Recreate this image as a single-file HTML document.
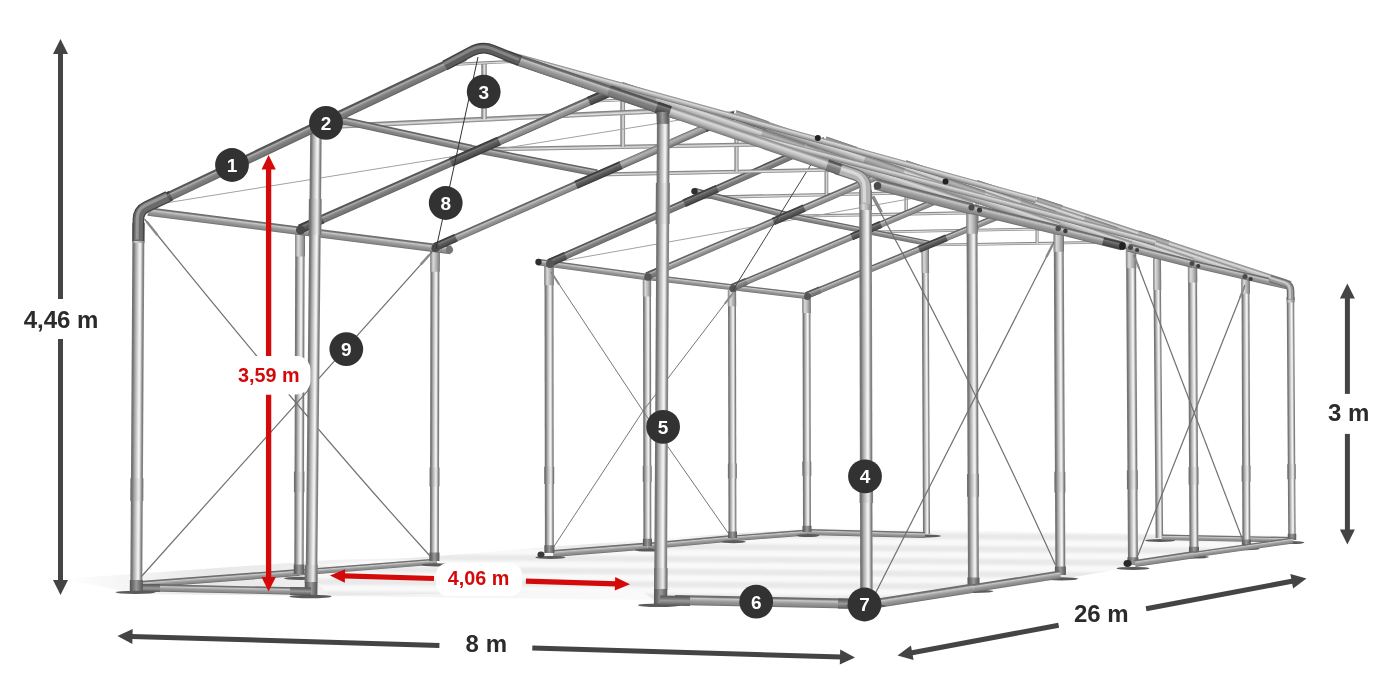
<!DOCTYPE html>
<html><head><meta charset="utf-8"><title>Tent frame</title>
<style>html,body{margin:0;padding:0;background:#fff}body{width:1400px;height:700px;overflow:hidden;font-family:"Liberation Sans",sans-serif}svg{display:block;transform:translateZ(0)}text{font-family:"Liberation Sans",sans-serif;font-weight:700}</style></head><body>
<svg width="1400" height="700" viewBox="0 0 1400 700">
<defs>
<linearGradient id="post" x1="0" y1="0" x2="0" y2="1"><stop offset="0" stop-color="#6e6e6e"/><stop offset="0.14" stop-color="#7a7a7a"/><stop offset="0.28" stop-color="#a8a8a8"/><stop offset="0.45" stop-color="#cfcfcf"/><stop offset="0.62" stop-color="#f4f4f4"/><stop offset="0.72" stop-color="#e6e6e6"/><stop offset="0.82" stop-color="#a8a8a8"/><stop offset="0.92" stop-color="#7c7c7c"/><stop offset="1" stop-color="#8a8a8a"/></linearGradient>
<linearGradient id="post2" x1="0" y1="0" x2="0" y2="1"><stop offset="0" stop-color="#6a6a6a"/><stop offset="0.14" stop-color="#767676"/><stop offset="0.28" stop-color="#a0a0a0"/><stop offset="0.45" stop-color="#c6c6c6"/><stop offset="0.62" stop-color="#e8e8e8"/><stop offset="0.72" stop-color="#dadada"/><stop offset="0.82" stop-color="#a0a0a0"/><stop offset="0.92" stop-color="#787878"/><stop offset="1" stop-color="#848484"/></linearGradient>
<linearGradient id="socket" x1="0" y1="0" x2="0" y2="1"><stop offset="0" stop-color="#555"/><stop offset="0.2" stop-color="#6a6a6a"/><stop offset="0.5" stop-color="#9a9a9a"/><stop offset="0.75" stop-color="#787878"/><stop offset="1" stop-color="#555"/></linearGradient>
<linearGradient id="lite" x1="0" y1="0" x2="0" y2="1"><stop offset="0" stop-color="#7a7a7a"/><stop offset="0.2" stop-color="#8c8c8c"/><stop offset="0.4" stop-color="#c4c4c4"/><stop offset="0.6" stop-color="#e0e0e0"/><stop offset="0.8" stop-color="#a6a6a6"/><stop offset="1" stop-color="#808080"/></linearGradient>
<linearGradient id="dark" x1="0" y1="0" x2="0" y2="1"><stop offset="0" stop-color="#4e4e4e"/><stop offset="0.18" stop-color="#5c5c5c"/><stop offset="0.3" stop-color="#b0b0b0"/><stop offset="0.4" stop-color="#989898"/><stop offset="0.55" stop-color="#808080"/><stop offset="0.85" stop-color="#747474"/><stop offset="1" stop-color="#5a5a5a"/></linearGradient>
<linearGradient id="mdark" x1="0" y1="0" x2="0" y2="1"><stop offset="0" stop-color="#5e5e5e"/><stop offset="0.18" stop-color="#6c6c6c"/><stop offset="0.3" stop-color="#c4c4c4"/><stop offset="0.42" stop-color="#adadad"/><stop offset="0.6" stop-color="#969696"/><stop offset="0.85" stop-color="#868686"/><stop offset="1" stop-color="#666"/></linearGradient>
<linearGradient id="sleeve" x1="0" y1="0" x2="0" y2="1"><stop offset="0" stop-color="#3a3a3a"/><stop offset="0.18" stop-color="#444"/><stop offset="0.3" stop-color="#7c7c7c"/><stop offset="0.45" stop-color="#626262"/><stop offset="0.7" stop-color="#525252"/><stop offset="1" stop-color="#3a3a3a"/></linearGradient>
<linearGradient id="mid" x1="0" y1="0" x2="0" y2="1"><stop offset="0" stop-color="#666"/><stop offset="0.16" stop-color="#747474"/><stop offset="0.3" stop-color="#c8c8c8"/><stop offset="0.42" stop-color="#b2b2b2"/><stop offset="0.6" stop-color="#989898"/><stop offset="0.85" stop-color="#888"/><stop offset="1" stop-color="#686868"/></linearGradient>
<linearGradient id="silver" x1="0" y1="0" x2="0" y2="1"><stop offset="0" stop-color="#8a8a8a"/><stop offset="0.12" stop-color="#9c9c9c"/><stop offset="0.3" stop-color="#dadada"/><stop offset="0.6" stop-color="#b8b8b8"/><stop offset="0.88" stop-color="#8c8c8c"/><stop offset="1" stop-color="#666"/></linearGradient>
<linearGradient id="mid2" x1="0" y1="0" x2="0" y2="1"><stop offset="0" stop-color="#5c5c5c"/><stop offset="0.16" stop-color="#686868"/><stop offset="0.3" stop-color="#b8b8b8"/><stop offset="0.42" stop-color="#a0a0a0"/><stop offset="0.6" stop-color="#888"/><stop offset="0.85" stop-color="#7a7a7a"/><stop offset="1" stop-color="#5e5e5e"/></linearGradient>
<linearGradient id="silver2" x1="0" y1="0" x2="0" y2="1"><stop offset="0" stop-color="#777"/><stop offset=".3" stop-color="#b4b4b4"/><stop offset=".6" stop-color="#9a9a9a"/><stop offset="1" stop-color="#666"/></linearGradient>
<linearGradient id="shl" x1="0" y1="0" x2="1" y2="0"><stop offset="0" stop-color="#e4e4e4" stop-opacity="0"/><stop offset=".25" stop-color="#e6e6e6" stop-opacity=".9"/><stop offset=".5" stop-color="#f1f1f1" stop-opacity=".9"/><stop offset="1" stop-color="#f9f9f9" stop-opacity=".8"/></linearGradient>
</defs>
<rect width="1400" height="700" fill="#fff"/>
<clipPath id="floor"><polygon points="300,566 437,556 549,547 807,528 1290,536 1296,542 1133,567 1062,579 880,607 660,604 640,590 330,596"/></clipPath>
<filter id="soft" x="-5%" y="-20%" width="110%" height="140%"><feGaussianBlur stdDeviation="1.6 1.1"/></filter>
<polygon points="62,579 330,560 660,552 660,600 330,596 140,594" fill="url(#shl)"/>
<g clip-path="url(#floor)"><rect x="290" y="520" width="1020" height="95" fill="#f9f9f9"/><g filter="url(#soft)">
<polygon points="300,528.0 1300,536.0 1300,542.0 300,534.0" fill="#e6e6e6" opacity=".85"/>
<polygon points="300,540.6 1300,548.6 1300,554.6 300,546.6" fill="#e6e6e6" opacity=".85"/>
<polygon points="300,553.2 1300,561.2 1300,567.2 300,559.2" fill="#e6e6e6" opacity=".85"/>
<polygon points="300,565.8 1300,573.8 1300,579.8 300,571.8" fill="#e6e6e6" opacity=".85"/>
<polygon points="300,578.4 1300,586.4 1300,592.4 300,584.4" fill="#e6e6e6" opacity=".85"/>
<polygon points="300,591.0 1300,599.0 1300,605.0 300,597.0" fill="#e6e6e6" opacity=".85"/>
<polygon points="300,603.6 1300,611.6 1300,617.6 300,609.6" fill="#e6e6e6" opacity=".85"/>
</g></g>
<rect x="926.5" y="530.50" width="287.5" height="7" fill="url(#post)" transform="rotate(-90.26 926.5 534.0)"/>
<rect x="925.4" y="269.30" width="26.5" height="7.4" fill="url(#silver)" transform="rotate(-90.43 925.4 273.0)"/>
<rect x="1159.4" y="534.25" width="280.0" height="7.5" fill="url(#post)" transform="rotate(-90.49 1159.4 538.0)"/>
<rect x="1157.3" y="286.05" width="32.0" height="7.9" fill="url(#silver)" transform="rotate(-90.54 1157.3 290.0)"/>
<ellipse cx="927.0" cy="536.0" rx="14" ry="1.4" fill="#5a5a5a"/>
<ellipse cx="1160.0" cy="540.5" rx="15" ry="1.4" fill="#5a5a5a"/>
<rect x="807.0" y="529.10" width="118.0" height="5.8" fill="url(#mid)" transform="rotate(1.46 807.0 532.0)"/>
<rect x="1162.0" y="534.50" width="129.0" height="5.6" fill="url(#mid)" transform="rotate(1.11 1162.0 537.3)"/>
<rect x="553.0" y="550.00" width="94.7" height="7" fill="url(#mid)" transform="rotate(-4.54 553.0 553.5)"/>
<rect x="647.4" y="542.80" width="85.4" height="6.4" fill="url(#mid)" transform="rotate(-5.17 647.4 546.0)"/>
<rect x="732.5" y="535.40" width="74.7" height="5.8" fill="url(#mid)" transform="rotate(-4.45 732.5 538.3)"/>
<rect x="931.6" y="243.70" width="224.1" height="2.6" fill="url(#lite)" transform="rotate(-0.90 931.6 245.0)"/>
<rect x="1037.0" y="241.84" width="35.1" height="3" fill="url(#lite)" transform="rotate(-90.00 1037.0 243.3)"/>
<rect x="1019.9" y="208.58" width="31.8" height="2" fill="url(#lite)" transform="rotate(-2.82 1019.9 209.6)"/>
<rect x="865.0" y="230.74" width="237.7" height="2.8000000000000003" fill="url(#lite)" transform="rotate(-1.05 865.0 232.1)"/>
<rect x="977.1" y="228.54" width="38.2" height="3.08" fill="url(#lite)" transform="rotate(-90.00 977.1 230.1)"/>
<rect x="958.6" y="192.24" width="34.2" height="2" fill="url(#lite)" transform="rotate(-2.82 958.6 193.2)"/>
<rect x="787.6" y="214.74" width="252.6" height="3.1" fill="url(#lite)" transform="rotate(-1.11 787.6 216.3)"/>
<rect x="906.2" y="212.28" width="40.7" height="3.41" fill="url(#lite)" transform="rotate(-90.00 906.2 214.0)"/>
<rect x="885.8" y="173.83" width="37.9" height="2" fill="url(#lite)" transform="rotate(-2.82 885.8 174.8)"/>
<rect x="699.4" y="195.81" width="269.5" height="3.4000000000000004" fill="url(#lite)" transform="rotate(-1.31 699.4 197.5)"/>
<rect x="826.4" y="192.74" width="44.1" height="3.74" fill="url(#lite)" transform="rotate(-90.00 826.4 194.6)"/>
<rect x="803.9" y="151.20" width="41.5" height="2.04" fill="url(#lite)" transform="rotate(-2.82 803.9 152.2)"/>
<line x1="551.0" y1="263.0" x2="976.0" y2="187.0" stroke="#a2a2a2" stroke-width="1"/>
<rect x="807.0" y="527.00" width="232.5" height="8" fill="url(#post)" transform="rotate(-90.12 807.0 531.0)"/>
<rect x="806.5" y="308.77" width="14.5" height="8.4" fill="url(#silver)" transform="rotate(-90.13 806.5 313.0)"/>
<rect x="806.9" y="471.16" width="14.1" height="9" fill="url(#post2)" transform="rotate(-90.12 806.9 475.7)"/>
<rect x="807.0" y="527.50" width="6.2" height="9" fill="url(#socket)" transform="rotate(-90.10 807.0 532.0)"/>
<ellipse cx="808.0" cy="535.6" rx="11.440000000000001" ry="1.5" fill="#5a5a5a"/>
<rect x="732.5" y="533.00" width="246.4" height="8" fill="url(#post)" transform="rotate(-90.12 732.5 537.0)"/>
<rect x="732.0" y="302.07" width="15.7" height="8.4" fill="url(#silver)" transform="rotate(-90.12 732.0 306.3)"/>
<rect x="732.4" y="473.89" width="15.0" height="9" fill="url(#post2)" transform="rotate(-90.11 732.4 478.4)"/>
<rect x="732.5" y="533.50" width="6.6" height="9" fill="url(#socket)" transform="rotate(-90.10 732.5 538.0)"/>
<ellipse cx="733.5" cy="541.8" rx="12.32" ry="1.5" fill="#5a5a5a"/>
<rect x="647.4" y="541.00" width="266.0" height="8" fill="url(#post)" transform="rotate(-90.09 647.4 545.0)"/>
<rect x="647.0" y="292.26" width="17.5" height="8.4" fill="url(#silver)" transform="rotate(-90.09 647.0 296.5)"/>
<rect x="647.3" y="477.28" width="16.1" height="9" fill="url(#post2)" transform="rotate(-90.09 647.3 481.8)"/>
<rect x="647.4" y="541.50" width="7.2" height="9" fill="url(#socket)" transform="rotate(-90.07 647.4 546.0)"/>
<ellipse cx="648.4" cy="550.1" rx="13.64" ry="1.5" fill="#5a5a5a"/>
<rect x="549.4" y="547.50" width="286.0" height="9" fill="url(#post)" transform="rotate(-90.08 549.4 552.0)"/>
<rect x="549.0" y="280.56" width="19.3" height="9.4" fill="url(#silver)" transform="rotate(-90.08 549.0 285.3)"/>
<rect x="549.3" y="479.09" width="17.3" height="10" fill="url(#post2)" transform="rotate(-90.08 549.3 484.1)"/>
<rect x="549.4" y="548.00" width="7.8" height="10" fill="url(#socket)" transform="rotate(-90.07 549.4 553.0)"/>
<ellipse cx="550.4" cy="557.4" rx="14.96" ry="1.5" fill="#5a5a5a"/>
<ellipse cx="541" cy="554.5" rx="3.5" ry="3" fill="#3a3a3a"/>
<rect x="537.5" y="258.60" width="110.5" height="6.8" fill="url(#mid)" transform="rotate(7.80 537.5 262.0)"/>
<rect x="647.0" y="274.00" width="160.6" height="6" fill="url(#mid)" transform="rotate(6.79 647.0 277.0)"/>
<circle cx="538.5" cy="262.0" r="3.2" fill="#2e2e2e"/>
<rect x="694.0" y="187.70" width="96.7" height="6.6" fill="url(#mid2)" transform="rotate(14.54 694.0 191.0)"/>
<rect x="787.6" y="212.39" width="146.8" height="5.8" fill="url(#mid2)" transform="rotate(11.28 787.6 215.3)"/>
<circle cx="694.5" cy="191.3" r="3.2" fill="#2e2e2e"/>
<rect x="806.5" y="292.30" width="248.2" height="6.4" fill="url(#mdark)" transform="rotate(-22.38 806.5 295.5)"/>
<rect x="806.5" y="292.00" width="14.9" height="7.0" fill="url(#dark)" transform="rotate(-22.38 806.5 295.5)"/>
<rect x="1013.0" y="206.95" width="24.8" height="7.0" fill="url(#dark)" transform="rotate(-22.38 1013.0 210.4)"/>
<rect x="919.0" y="245.69" width="29.8" height="7.0" fill="url(#sleeve)" transform="rotate(-22.38 919.0 249.2)"/>
<circle cx="807.5" cy="296.5" r="3.5200000000000005" fill="#555"/>
<rect x="732.0" y="284.30" width="265.1" height="6.6" fill="url(#mdark)" transform="rotate(-23.01 732.0 287.6)"/>
<rect x="732.0" y="284.00" width="15.9" height="7.199999999999999" fill="url(#dark)" transform="rotate(-23.01 732.0 287.6)"/>
<rect x="951.6" y="190.76" width="26.5" height="7.199999999999999" fill="url(#dark)" transform="rotate(-23.01 951.6 194.4)"/>
<rect x="851.6" y="233.24" width="31.8" height="7.199999999999999" fill="url(#sleeve)" transform="rotate(-23.01 851.6 236.8)"/>
<circle cx="733.0" cy="288.6" r="3.63" fill="#555"/>
<rect x="647.0" y="272.50" width="281.0" height="7.0" fill="url(#mdark)" transform="rotate(-23.35 647.0 276.0)"/>
<rect x="647.0" y="272.20" width="16.9" height="7.6" fill="url(#dark)" transform="rotate(-23.35 647.0 276.0)"/>
<rect x="879.2" y="171.94" width="28.1" height="7.6" fill="url(#dark)" transform="rotate(-23.35 879.2 175.7)"/>
<rect x="773.4" y="217.61" width="33.7" height="7.6" fill="url(#sleeve)" transform="rotate(-23.35 773.4 221.4)"/>
<circle cx="648.0" cy="277.0" r="3.8500000000000005" fill="#555"/>
<rect x="549.0" y="259.30" width="301.8" height="7.4" fill="url(#dark)" transform="rotate(-23.85 549.0 263.0)"/>
<rect x="549.0" y="259.00" width="18.1" height="8.0" fill="url(#sleeve)" transform="rotate(-23.85 549.0 263.0)"/>
<rect x="797.4" y="149.20" width="30.2" height="8.0" fill="url(#sleeve)" transform="rotate(-23.85 797.4 153.2)"/>
<rect x="684.2" y="199.22" width="36.2" height="8.0" fill="url(#sleeve)" transform="rotate(-23.85 684.2 203.2)"/>
<circle cx="550.0" cy="264.0" r="4.07" fill="#555"/>
<line x1="820.0" y1="150.0" x2="733.0" y2="290.0" stroke="#444" stroke-width="1"/>
<polyline points="551,272 643,411 733,540" fill="none" stroke="#777" stroke-width="1"/>
<polyline points="733,293 643,411 553,548" fill="none" stroke="#777" stroke-width="1"/>
<rect x="1292.0" y="535.25" width="242.0" height="7.5" fill="url(#post)" transform="rotate(-90.36 1292.0 539.0)"/>
<rect x="1290.6" y="298.53" width="5.5" height="7.9" fill="url(#silver)" transform="rotate(-90.96 1290.6 302.5)"/>
<rect x="1291.6" y="475.06" width="15.2" height="8.5" fill="url(#post2)" transform="rotate(-90.34 1291.6 479.3)"/>
<rect x="1292.0" y="535.75" width="6.2" height="8.5" fill="url(#socket)" transform="rotate(-90.28 1292.0 540.0)"/>
<ellipse cx="1292.0" cy="542.6" rx="12.48" ry="1.5" fill="#5a5a5a"/>
<rect x="1246.4" y="541.00" width="268.0" height="8" fill="url(#post)" transform="rotate(-90.19 1246.4 545.0)"/>
<rect x="1245.6" y="289.48" width="16.7" height="8.4" fill="url(#silver)" transform="rotate(-90.19 1245.6 293.7)"/>
<rect x="1246.2" y="477.05" width="16.2" height="9" fill="url(#post2)" transform="rotate(-90.19 1246.2 481.6)"/>
<rect x="1246.4" y="541.50" width="6.6" height="9" fill="url(#socket)" transform="rotate(-90.16 1246.4 546.0)"/>
<ellipse cx="1246.4" cy="548.8" rx="13.440000000000001" ry="1.5" fill="#5a5a5a"/>
<rect x="1194.0" y="548.50" width="289.0" height="9" fill="url(#post)" transform="rotate(-90.30 1194.0 553.0)"/>
<rect x="1192.6" y="277.77" width="18.5" height="9.4" fill="url(#silver)" transform="rotate(-90.30 1192.6 282.5)"/>
<rect x="1193.6" y="479.62" width="17.5" height="10" fill="url(#post2)" transform="rotate(-90.30 1193.6 484.6)"/>
<rect x="1194.0" y="549.00" width="7.2" height="10" fill="url(#socket)" transform="rotate(-90.25 1194.0 554.0)"/>
<ellipse cx="1194.0" cy="557.1" rx="14.879999999999999" ry="1.5" fill="#5a5a5a"/>
<rect x="1133.0" y="559.00" width="316.0" height="10" fill="url(#post)" transform="rotate(-90.36 1133.0 564.0)"/>
<rect x="1131.1" y="263.07" width="20.3" height="10.4" fill="url(#silver)" transform="rotate(-90.36 1131.1 268.3)"/>
<rect x="1132.5" y="483.77" width="19.1" height="11" fill="url(#post2)" transform="rotate(-90.36 1132.5 489.3)"/>
<rect x="1133.0" y="559.50" width="7.8" height="11" fill="url(#socket)" transform="rotate(-90.31 1133.0 565.0)"/>
<ellipse cx="1133.0" cy="568.4" rx="16.32" ry="1.5" fill="#5a5a5a"/>
<rect x="1135.0" y="559.90" width="59.7" height="7.2" fill="url(#mid)" transform="rotate(-8.58 1135.0 563.5)"/>
<rect x="1194.0" y="551.60" width="100.0" height="6" fill="url(#mid)" transform="rotate(-8.11 1194.0 554.6)"/>
<ellipse cx="1127.5" cy="563.5" rx="4" ry="3.4" fill="#2a2a2a"/>
<line x1="1134.0" y1="255.0" x2="1245.0" y2="546.0" stroke="#707070" stroke-width="1.2"/>
<line x1="1245.0" y1="285.0" x2="1136.0" y2="560.0" stroke="#707070" stroke-width="1.2"/>
<rect x="597.0" y="172.60" width="290.2" height="3.8" fill="url(#lite)" transform="rotate(-1.16 597.0 174.5)"/>
<rect x="736.5" y="169.59" width="46.0" height="4.18" fill="url(#lite)" transform="rotate(-90.00 736.5 171.7)"/>
<rect x="711.4" y="126.40" width="46.4" height="2.2800000000000002" fill="url(#lite)" transform="rotate(-2.82 711.4 127.5)"/>
<rect x="471.0" y="147.35" width="315.0" height="4.3" fill="url(#lite)" transform="rotate(-1.01 471.0 149.5)"/>
<rect x="622.7" y="144.45" width="47.8" height="4.7299999999999995" fill="url(#lite)" transform="rotate(-90.00 622.7 146.8)"/>
<rect x="594.3" y="99.90" width="52.5" height="2.58" fill="url(#lite)" transform="rotate(-2.82 594.3 101.2)"/>
<rect x="325.0" y="124.20" width="338.7" height="5" fill="url(#lite)" transform="rotate(-2.69 325.0 126.7)"/>
<rect x="484.0" y="116.48" width="57.2" height="5.5" fill="url(#lite)" transform="rotate(-90.00 484.0 119.2)"/>
<rect x="451.0" y="63.00" width="61.1" height="3" fill="url(#lite)" transform="rotate(-2.82 451.0 64.5)"/>
<line x1="150.0" y1="205.5" x2="735.0" y2="111.0" stroke="#a2a2a2" stroke-width="1"/>
<rect x="140.0" y="581.10" width="159.5" height="6.8" fill="url(#mid)" transform="rotate(-4.32 140.0 584.5)"/>
<rect x="299.0" y="569.50" width="138.4" height="6" fill="url(#mid)" transform="rotate(-4.56 299.0 572.5)"/>
<rect x="434.4" y="555.50" width="310.0" height="9" fill="url(#post)" transform="rotate(-89.89 434.4 560.0)"/>
<rect x="435.0" y="266.95" width="21.7" height="9.4" fill="url(#silver)" transform="rotate(-89.88 435.0 271.7)"/>
<rect x="434.5" y="481.44" width="18.8" height="10" fill="url(#post2)" transform="rotate(-89.89 434.5 486.4)"/>
<rect x="434.4" y="556.00" width="8.6" height="10" fill="url(#socket)" transform="rotate(-89.90 434.4 561.0)"/>
<ellipse cx="436.4" cy="564.8" rx="15.2" ry="1.6" fill="#5a5a5a"/>
<rect x="299.0" y="568.25" width="341.0" height="9.5" fill="url(#post)" transform="rotate(-89.83 299.0 573.0)"/>
<rect x="299.9" y="251.70" width="24.7" height="9.9" fill="url(#silver)" transform="rotate(-89.83 299.9 256.6)"/>
<rect x="299.2" y="486.91" width="20.6" height="10.5" fill="url(#post2)" transform="rotate(-89.83 299.2 492.2)"/>
<rect x="299.0" y="568.75" width="9.6" height="10.5" fill="url(#socket)" transform="rotate(-89.85 299.0 574.0)"/>
<ellipse cx="301.0" cy="578.3" rx="17.2" ry="1.6" fill="#5a5a5a"/>
<rect x="148.0" y="207.20" width="305.4" height="8.6" fill="url(#mid)" transform="rotate(7.24 148.0 211.5)"/>
<circle cx="449.5" cy="249.8" r="3.6" fill="#777"/>
<rect x="325.0" y="112.70" width="149.5" height="7.6" fill="url(#mid2)" transform="rotate(12.36 325.0 116.5)"/>
<rect x="470.0" y="144.60" width="129.4" height="7.4" fill="url(#mid2)" transform="rotate(11.01 470.0 148.3)"/>
<rect x="435.0" y="243.10" width="327.8" height="7.8" fill="url(#mdark)" transform="rotate(-23.75 435.0 247.0)"/>
<rect x="615.0" y="163.90" width="131.1" height="7.8" fill="url(#silver2)" transform="rotate(-23.75 615.0 167.8)"/>
<rect x="435.0" y="242.80" width="22.9" height="8.4" fill="url(#sleeve)" transform="rotate(-23.75 435.0 247.0)"/>
<rect x="576.0" y="180.76" width="49.2" height="8.4" fill="url(#sleeve)" transform="rotate(-23.75 576.0 185.0)"/>
<rect x="705.0" y="124.00" width="32.8" height="8.4" fill="url(#sleeve)" transform="rotate(-23.75 705.0 128.2)"/>
<circle cx="435.5" cy="248.0" r="4.056" fill="#484848"/>
<rect x="300.0" y="224.70" width="351.0" height="8.6" fill="url(#dark)" transform="rotate(-23.86 300.0 229.0)"/>
<rect x="492.6" y="139.50" width="140.4" height="8.6" fill="url(#mdark)" transform="rotate(-23.86 492.6 143.8)"/>
<rect x="300.0" y="224.40" width="24.6" height="9.2" fill="url(#sleeve)" transform="rotate(-23.86 300.0 229.0)"/>
<rect x="450.9" y="157.66" width="52.7" height="9.2" fill="url(#sleeve)" transform="rotate(-23.86 450.9 162.3)"/>
<rect x="588.9" y="96.60" width="35.1" height="9.2" fill="url(#sleeve)" transform="rotate(-23.86 588.9 101.2)"/>
<circle cx="300.5" cy="230.0" r="4.4719999999999995" fill="#484848"/>
<line x1="478.0" y1="57.0" x2="436.0" y2="249.0" stroke="#333" stroke-width="1"/>
<path d="M144.5,219 Q308.5,422.4 430,556" fill="none" stroke="#707070" stroke-width="1.2"/>
<line x1="432.0" y1="252.0" x2="141.0" y2="577.0" stroke="#707070" stroke-width="1.2"/>
<rect x="1036.0" y="197.05" width="268.0" height="7.9" fill="url(#silver)" transform="rotate(18.27 1036.0 201.0)"/>
<rect x="1137.8" y="230.35" width="32.2" height="8.5" fill="url(#silver2)" transform="rotate(18.27 1137.8 234.6)"/>
<rect x="1036.0" y="196.75" width="26.8" height="8.5" fill="url(#silver2)" transform="rotate(18.27 1036.0 201.0)"/>
<rect x="976.0" y="179.95" width="284.4" height="8.1" fill="url(#silver)" transform="rotate(18.66 976.0 184.0)"/>
<rect x="1083.8" y="216.05" width="34.1" height="8.7" fill="url(#silver2)" transform="rotate(18.66 1083.8 220.4)"/>
<rect x="976.0" y="179.65" width="28.4" height="8.7" fill="url(#silver2)" transform="rotate(18.66 976.0 184.0)"/>
<rect x="905.0" y="160.35" width="303.6" height="8.5" fill="url(#silver)" transform="rotate(18.72 905.0 164.6)"/>
<rect x="1020.0" y="199.01" width="36.4" height="9.1" fill="url(#silver2)" transform="rotate(18.72 1020.0 203.6)"/>
<rect x="905.0" y="160.05" width="30.4" height="9.1" fill="url(#silver2)" transform="rotate(18.72 905.0 164.6)"/>
<rect x="825.0" y="136.55" width="323.5" height="8.9" fill="url(#silver)" transform="rotate(18.94 825.0 141.0)"/>
<rect x="947.4" y="178.25" width="38.8" height="9.5" fill="url(#silver2)" transform="rotate(18.94 947.4 183.0)"/>
<rect x="825.0" y="136.25" width="32.4" height="9.5" fill="url(#silver2)" transform="rotate(18.94 825.0 141.0)"/>
<rect x="735.0" y="110.35" width="342.5" height="9.3" fill="url(#silver)" transform="rotate(19.09 735.0 115.0)"/>
<rect x="864.5" y="154.85" width="41.1" height="9.9" fill="url(#silver2)" transform="rotate(19.09 864.5 159.8)"/>
<rect x="735.0" y="110.05" width="34.3" height="9.9" fill="url(#silver2)" transform="rotate(19.09 735.0 115.0)"/>
<rect x="621.0" y="81.95" width="370.6" height="10.1" fill="url(#silver)" transform="rotate(18.73 621.0 87.0)"/>
<rect x="761.4" y="129.25" width="44.5" height="10.7" fill="url(#silver2)" transform="rotate(18.73 761.4 134.6)"/>
<rect x="621.0" y="81.65" width="37.1" height="10.7" fill="url(#silver2)" transform="rotate(18.73 621.0 87.0)"/>
<rect x="482.0" y="44.00" width="574.7" height="6" fill="url(#silver)" transform="rotate(15.44 482.0 47.0)"/>
<rect x="663.3" y="109.80" width="509.1" height="6" fill="url(#silver)" transform="rotate(14.76 663.3 112.8)"/>
<circle cx="945.5" cy="181.6" r="3" fill="#222"/><circle cx="817.8" cy="138" r="3" fill="#222"/>
<rect x="1060.4" y="569.00" width="345.0" height="10" fill="url(#post)" transform="rotate(-90.28 1060.4 574.0)"/>
<rect x="1058.8" y="246.47" width="22.7" height="10.4" fill="url(#silver)" transform="rotate(-90.28 1058.8 251.7)"/>
<rect x="1060.0" y="486.95" width="20.8" height="11" fill="url(#post2)" transform="rotate(-90.28 1060.0 492.5)"/>
<rect x="1060.4" y="569.50" width="8.6" height="11" fill="url(#socket)" transform="rotate(-90.25 1060.4 575.0)"/>
<ellipse cx="1061.4" cy="578.8" rx="16.72" ry="1.6" fill="#5a5a5a"/>
<rect x="973.5" y="580.50" width="378.0" height="11" fill="url(#post)" transform="rotate(-90.23 973.5 586.0)"/>
<rect x="972.1" y="227.96" width="25.7" height="11.4" fill="url(#silver)" transform="rotate(-90.23 972.1 233.7)"/>
<rect x="973.1" y="490.70" width="22.8" height="12" fill="url(#post2)" transform="rotate(-90.23 973.1 496.7)"/>
<rect x="973.5" y="581.00" width="9.6" height="12" fill="url(#socket)" transform="rotate(-90.20 973.5 587.0)"/>
<ellipse cx="974.5" cy="591.3" rx="18.919999999999998" ry="1.6" fill="#5a5a5a"/>
<rect x="875.5" y="178.30" width="99.7" height="11.4" fill="url(#mid)" transform="rotate(14.52 875.5 184.0)"/>
<rect x="972.0" y="203.90" width="90.6" height="10.2" fill="url(#mid)" transform="rotate(13.67 972.0 209.0)"/>
<rect x="1060.0" y="225.90" width="63.9" height="9" fill="url(#mid)" transform="rotate(13.95 1060.0 230.4)"/>
<circle cx="877.5" cy="185.8" r="3.8" fill="#4a4a4a"/>
<rect x="1103.0" y="237.30" width="19.6" height="7.8" fill="url(#sleeve)" transform="rotate(14.18 1103.0 241.2)"/>
<ellipse cx="1122.5" cy="246" rx="3.4" ry="3.9" fill="#222"/>
<rect x="1128.0" y="243.50" width="67.1" height="8" fill="url(#mid)" transform="rotate(14.24 1128.0 247.5)"/>
<rect x="1193.0" y="260.40" width="97.0" height="7.2" fill="url(#mid)" transform="rotate(12.99 1193.0 264.0)"/>
<circle cx="971.5" cy="207.5" r="3.096" fill="#4a4a4a"/>
<circle cx="979.5" cy="210.0" r="2.58" fill="#3a3a3a"/>
<circle cx="1058.2" cy="228.5" r="2.736" fill="#4a4a4a"/>
<circle cx="1065.4" cy="231.0" r="2.2800000000000002" fill="#3a3a3a"/>
<circle cx="1130.5" cy="247.5" r="2.52" fill="#4a4a4a"/>
<circle cx="1137.1" cy="250.0" r="2.0999999999999996" fill="#3a3a3a"/>
<circle cx="1192.0" cy="263.5" r="2.52" fill="#4a4a4a"/>
<circle cx="1198.2" cy="266.0" r="2.0999999999999996" fill="#3a3a3a"/>
<circle cx="1245.0" cy="276.5" r="2.52" fill="#4a4a4a"/>
<circle cx="1250.7" cy="279.0" r="2.0999999999999996" fill="#3a3a3a"/>
<circle cx="1290.0" cy="286.5" r="2.52" fill="#4a4a4a"/>
<path d="M1270.0,278.5 L1284.8,283.2 Q1290.5,285.0 1290.6,291.0 L1290.7,300.0" fill="none" stroke="#6a6a6a" stroke-width="7.6"/>
<path d="M1270.0,278.5 L1284.8,283.2 Q1290.5,285.0 1290.6,291.0 L1290.7,300.0" fill="none" stroke="#9a9a9a" stroke-width="5.2"/>
<path d="M1270.0,278.5 L1284.8,283.2 Q1290.5,285.0 1290.6,291.0 L1290.7,300.0" fill="none" stroke="#cfcfcf" stroke-width="2.1" transform="translate(-0.76 -0.99)" opacity=".9"/>
<rect x="880.0" y="598.10" width="94.4" height="9.4" fill="url(#mid)" transform="rotate(-8.89 880.0 602.8)"/>
<rect x="973.3" y="584.20" width="88.2" height="8" fill="url(#mid)" transform="rotate(-8.94 973.3 588.2)"/>
<path d="M870,190 L872,197 Q961.2,357.6 1055.5,565" fill="none" stroke="#707070" stroke-width="1.2"/>
<line x1="1054.0" y1="242.0" x2="873.0" y2="598.0" stroke="#707070" stroke-width="1.2"/>
<line x1="147.0" y1="222.1" x2="157.0" y2="234.6" stroke="#8a8a8a" stroke-width="2.4" stroke-linecap="round"/>
<line x1="429.3" y1="255.0" x2="421.3" y2="263.9" stroke="#8a8a8a" stroke-width="2.4" stroke-linecap="round"/>
<line x1="552.7" y1="274.5" x2="558.7" y2="283.7" stroke="#8a8a8a" stroke-width="2" stroke-linecap="round"/>
<line x1="731.2" y1="295.4" x2="725.1" y2="303.3" stroke="#8a8a8a" stroke-width="2" stroke-linecap="round"/>
<line x1="873.8" y1="197.1" x2="881.3" y2="211.2" stroke="#8a8a8a" stroke-width="2.4" stroke-linecap="round"/>
<line x1="1052.6" y1="244.7" x2="1046.7" y2="256.3" stroke="#8a8a8a" stroke-width="2.4" stroke-linecap="round"/>
<line x1="1135.1" y1="257.8" x2="1139.0" y2="268.1" stroke="#8a8a8a" stroke-width="2" stroke-linecap="round"/>
<line x1="1243.9" y1="287.8" x2="1240.2" y2="297.1" stroke="#8a8a8a" stroke-width="2" stroke-linecap="round"/>
<rect x="150.0" y="584.10" width="156.0" height="7.4" fill="url(#mid)" transform="rotate(1.25 150.0 587.8)"/>
<rect x="675.0" y="595.00" width="185.0" height="10" fill="url(#mid)" transform="rotate(1.18 675.0 600.0)"/>
<rect x="311.3" y="589.20" width="462.0" height="11.6" fill="url(#post)" transform="rotate(-89.42 311.3 595.0)"/>
<rect x="315.0" y="228.60" width="36.0" height="12.8" fill="url(#post2)" transform="rotate(-89.52 315.0 235.0)"/>
<rect x="311.1" y="576.50" width="18.0" height="13" fill="url(#post2)" transform="rotate(-89.36 311.1 583.0)"/>
<rect x="311.0" y="589.70" width="14.0" height="12.6" fill="url(#socket)" transform="rotate(-89.59 311.0 596.0)"/>
<ellipse cx="310.5" cy="596.5" rx="21" ry="1.7" fill="#5a5a5a"/>
<rect x="660.5" y="595.60" width="486.0" height="12.8" fill="url(#post)" transform="rotate(-89.66 660.5 602.0)"/>
<rect x="662.6" y="217.00" width="41.0" height="14" fill="url(#post2)" transform="rotate(-89.58 662.6 224.0)"/>
<rect x="660.8" y="583.20" width="22.0" height="13.6" fill="url(#post2)" transform="rotate(-89.74 660.8 590.0)"/>
<rect x="660.5" y="597.40" width="15.0" height="13.2" fill="url(#socket)" transform="rotate(-89.24 660.5 604.0)"/>
<ellipse cx="659.0" cy="605.2" rx="21" ry="1.7" fill="#5a5a5a"/>
<rect x="660.0" y="595.40" width="30.0" height="10.2" fill="url(#socket)" transform="rotate(0.95 660.0 600.5)"/>
<rect x="136.3" y="584.10" width="23.7" height="7.8" fill="url(#socket)" transform="rotate(0.48 136.3 588.0)"/>
<rect x="290.0" y="587.10" width="21.0" height="7.8" fill="url(#socket)" transform="rotate(1.09 290.0 591.0)"/>
<rect x="838.0" y="598.40" width="28.0" height="10.2" fill="url(#socket)" transform="rotate(1.02 838.0 603.5)"/>
<rect x="136.3" y="584.00" width="367.0" height="12" fill="url(#post)" transform="rotate(-89.66 136.3 590.0)"/>
<rect x="138.3" y="236.64" width="19.8" height="12.4" fill="url(#silver)" transform="rotate(-89.50 138.3 242.8)"/>
<rect x="136.8" y="494.44" width="22.7" height="13" fill="url(#post2)" transform="rotate(-89.67 136.8 500.9)"/>
<rect x="136.3" y="584.50" width="11.0" height="13" fill="url(#socket)" transform="rotate(-89.70 136.3 591.0)"/>
<rect x="866.5" y="596.75" width="413.0" height="12.5" fill="url(#post)" transform="rotate(-90.14 866.5 603.0)"/>
<rect x="865.6" y="203.41" width="19.9" height="12.9" fill="url(#silver)" transform="rotate(-90.20 865.6 209.9)"/>
<rect x="866.3" y="496.38" width="25.5" height="13.5" fill="url(#post2)" transform="rotate(-90.13 866.3 503.1)"/>
<rect x="866.5" y="597.25" width="11.0" height="13.5" fill="url(#socket)" transform="rotate(-90.12 866.5 604.0)"/>
<ellipse cx="135.5" cy="592.3" rx="20" ry="1.6" fill="#5a5a5a"/>
<ellipse cx="866.0" cy="606.0" rx="20" ry="1.6" fill="#5a5a5a"/>
<rect x="152.2" y="199.68" width="346.0" height="9.6" fill="url(#dark)" transform="rotate(-25.39 152.2 204.5)"/>
<rect x="152.2" y="199.38" width="20.8" height="10.2" fill="url(#sleeve)" transform="rotate(-25.39 152.2 204.5)"/>
<rect x="311.7" y="123.73" width="31.1" height="10.2" fill="url(#sleeve)" transform="rotate(-25.39 311.7 128.8)"/>
<rect x="505.0" y="50.40" width="368.0" height="10.8" fill="url(#silver)" transform="rotate(18.74 505.0 55.8)"/>
<rect x="516.5" y="54.30" width="101.2" height="10.8" fill="url(#mdark)" transform="rotate(18.73 516.5 59.7)"/>
<rect x="608.6" y="85.30" width="64.8" height="11.2" fill="url(#dark)" transform="rotate(18.73 608.6 90.9)"/>
<rect x="656.5" y="101.35" width="14.2" height="11.6" fill="url(#sleeve)" transform="rotate(18.73 656.5 107.2)"/>
<path d="M138.2,241.0 L138.4,219.5 Q138.5,210.5 146.6,206.7 L168.0,196.6" fill="none" stroke="#444" stroke-width="11.6"/>
<path d="M138.2,241.0 L138.4,219.5 Q138.5,210.5 146.6,206.7 L168.0,196.6" fill="none" stroke="#6a6a6a" stroke-width="9.2"/>
<path d="M138.2,241.0 L138.4,219.5 Q138.5,210.5 146.6,206.7 L168.0,196.6" fill="none" stroke="#9c9c9c" stroke-width="3.2" transform="translate(-1.16 -1.51)" opacity=".9"/>
<path d="M445.0,65.4 L471.4,51.3 Q482.0,45.6 493.1,50.1 L520.0,60.9" fill="none" stroke="#3d3d3d" stroke-width="10.6"/>
<path d="M445.0,65.4 L471.4,51.3 Q482.0,45.6 493.1,50.1 L520.0,60.9" fill="none" stroke="#5c5c5c" stroke-width="8.2"/>
<path d="M445.0,65.4 L471.4,51.3 Q482.0,45.6 493.1,50.1 L520.0,60.9" fill="none" stroke="#8a8a8a" stroke-width="3.0" transform="translate(-1.06 -1.38)" opacity=".9"/>
<path d="M836.0,168.2 L855.1,174.5 Q865.5,178.0 865.5,189.0 L865.6,204.0" fill="none" stroke="#747474" stroke-width="12"/>
<path d="M836.0,168.2 L855.1,174.5 Q865.5,178.0 865.5,189.0 L865.6,204.0" fill="none" stroke="#b4b4b4" stroke-width="9.6"/>
<path d="M836.0,168.2 L855.1,174.5 Q865.5,178.0 865.5,189.0 L865.6,204.0" fill="none" stroke="#dcdcdc" stroke-width="3.4" transform="translate(-1.20 -1.56)" opacity=".9"/>
<rect x="827.2" y="159.30" width="14.2" height="11.4" fill="url(#dark)" transform="rotate(18.73 827.2 165.0)"/>
<rect x="662.9" y="118.00" width="12.0" height="12" fill="url(#socket)" transform="rotate(-92.39 662.9 124.0)"/>
<g opacity="0.999">
<line x1="60.5" y1="52.5" x2="60.5" y2="299.0" stroke="#444" stroke-width="5"/>
<line x1="60.5" y1="339.0" x2="60.5" y2="581.5" stroke="#444" stroke-width="5"/>
<polygon points="60.5,39.0 53.0,54.0 68.0,54.0" fill="#444"/>
<polygon points="60.5,595.0 53.0,580.0 68.0,580.0" fill="#444"/>
<text x="61" y="328.4" font-size="24" fill="#2b2b2b" text-anchor="middle">4,46 m</text>
<line x1="1347.4" y1="297.0" x2="1347.4" y2="393.9" stroke="#444" stroke-width="5"/>
<line x1="1347.4" y1="433.9" x2="1347.4" y2="531.0" stroke="#444" stroke-width="5"/>
<polygon points="1347.4,283.5 1339.9,298.5 1354.9,298.5" fill="#444"/>
<polygon points="1347.4,544.5 1339.9,529.5 1354.9,529.5" fill="#444"/>
<text x="1348.6" y="420.8" font-size="24" fill="#2b2b2b" text-anchor="middle">3 m</text>
<line x1="131.0" y1="636.4" x2="439.4" y2="645.4" stroke="#444" stroke-width="5"/>
<line x1="532.3" y1="648.1" x2="841.5" y2="657.1" stroke="#444" stroke-width="5"/>
<polygon points="117.5,636.0 132.3,643.9 132.7,628.9" fill="#444"/>
<polygon points="855.0,657.5 839.8,664.6 840.2,649.6" fill="#444"/>
<text x="486.3" y="652" font-size="24" fill="#2b2b2b" text-anchor="middle">8 m</text>
<line x1="910.8" y1="653.0" x2="1058.7" y2="625.2" stroke="#444" stroke-width="5"/>
<line x1="1146.1" y1="608.7" x2="1293.2" y2="581.0" stroke="#444" stroke-width="5"/>
<polygon points="897.5,655.5 913.6,660.1 910.9,645.4" fill="#444"/>
<polygon points="1306.5,578.5 1293.1,588.6 1290.4,573.9" fill="#444"/>
<text x="1101.3" y="622" font-size="24" fill="#2b2b2b" text-anchor="middle">26 m</text>
<line x1="268.6" y1="168.1" x2="268.6" y2="355.9" stroke="#d40a0a" stroke-width="5.3"/>
<line x1="268.6" y1="394.4" x2="268.6" y2="578.5" stroke="#d40a0a" stroke-width="5.3"/>
<polygon points="268.6,155.0 261.5,169.6 275.8,169.6" fill="#d40a0a"/>
<polygon points="268.6,591.6 261.5,577.0 275.8,577.0" fill="#d40a0a"/>
<rect x="223" y="356" width="87.5" height="38.4" rx="14" fill="#fff"/>
<text x="268.9" y="382.2" font-size="19.8" fill="#d40a0a" text-anchor="middle">3,59 m</text>
<line x1="343.5" y1="575.9" x2="434.0" y2="578.5" stroke="#d40a0a" stroke-width="5.2"/>
<line x1="525.9" y1="581.2" x2="616.5" y2="583.9" stroke="#d40a0a" stroke-width="5.2"/>
<polygon points="330.0,575.5 344.8,582.7 345.2,569.2" fill="#d40a0a"/>
<polygon points="630.0,584.3 614.8,590.6 615.2,577.1" fill="#d40a0a"/>
<rect x="436" y="563" width="86" height="33" rx="12" fill="#fff"/>
<text x="478.5" y="585.3" font-size="19.8" fill="#d40a0a" text-anchor="middle">4,06 m</text>
<circle cx="232" cy="165" r="16.9" fill="#323232"/>
<text x="232" y="171.9" font-size="19" fill="#fff" text-anchor="middle">1</text>
<circle cx="326" cy="122.9" r="16.9" fill="#323232"/>
<text x="326" y="129.8" font-size="19" fill="#fff" text-anchor="middle">2</text>
<circle cx="483.7" cy="91.7" r="16.9" fill="#323232"/>
<text x="483.7" y="98.6" font-size="19" fill="#fff" text-anchor="middle">3</text>
<circle cx="865" cy="476.3" r="16.9" fill="#323232"/>
<text x="865" y="483.2" font-size="19" fill="#fff" text-anchor="middle">4</text>
<circle cx="663.1" cy="426.8" r="16.9" fill="#323232"/>
<text x="663.1" y="433.7" font-size="19" fill="#fff" text-anchor="middle">5</text>
<circle cx="756.2" cy="601.7" r="16.9" fill="#323232"/>
<text x="756.2" y="608.6" font-size="19" fill="#fff" text-anchor="middle">6</text>
<circle cx="864.5" cy="604.5" r="16.9" fill="#323232"/>
<text x="864.5" y="611.4" font-size="19" fill="#fff" text-anchor="middle">7</text>
<circle cx="445.7" cy="203" r="16.9" fill="#323232"/>
<text x="445.7" y="209.9" font-size="19" fill="#fff" text-anchor="middle">8</text>
<circle cx="346.3" cy="349.1" r="16.9" fill="#323232"/>
<text x="346.3" y="356.0" font-size="19" fill="#fff" text-anchor="middle">9</text>
</g>
</svg>
</body></html>
